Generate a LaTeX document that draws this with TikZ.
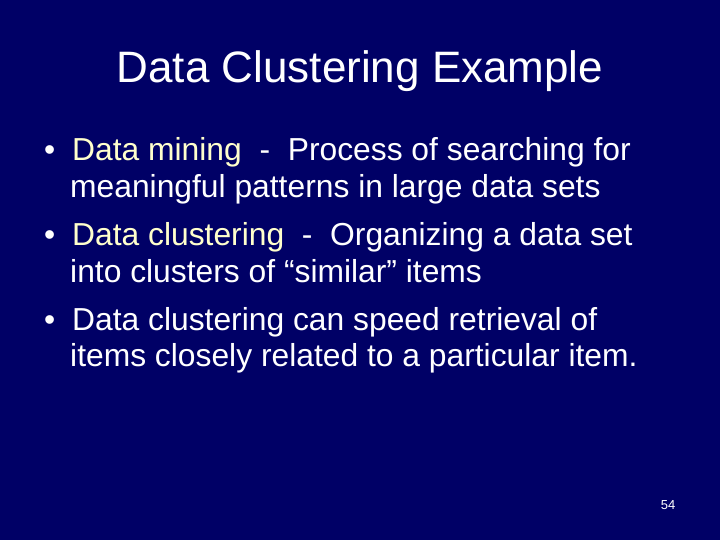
\documentclass[tikz,border=0pt]{standalone}
\usepackage{fontspec}
\setmainfont{Liberation Sans}
\definecolor{bg}{RGB}{0,0,102}
\definecolor{hl}{RGB}{255,255,204}
\begin{document}
\begin{tikzpicture}[x=1pt,y=-1pt,
  body/.style={anchor=base west,inner sep=0pt,text=white,font=\fontsize{31.8}{36}\selectfont},
  bul/.style={anchor=base west,inner sep=0pt,text=white,font=\fontsize{31.8}{36}\selectfont}]
\fill[bg] (0,0) rectangle (720,540);
\useasboundingbox (0,0) rectangle (720,540);
\node[anchor=base,inner sep=0pt,text=white,font=\fontsize{44}{52}\selectfont] (title) at (360,83) {Data Clustering Example};
\node[bul] (b1) at (44,161) {•};
\node[body] (l1) at (72,161) {\textcolor{hl}{Data mining}\ \ -\ \ Process of searching for};
\node[body] (l2) at (70,198) {meaningful patterns in large data sets};
\node[bul] (b2) at (44,245) {•};
\node[body] (l3) at (72,245) {\textcolor{hl}{Data clustering}\ \ -\ \ Organizing a data set};
\node[body] (l4) at (70,282) {into clusters of “similar” items};
\node[bul] (b3) at (44,330) {•};
\node[body] (l5) at (72,330) {Data clustering can speed retrieval of};
\node[body] (l6) at (70,366) {items closely related to a particular item.};
\node[anchor=base,inner sep=0pt,text=white,font=\fontsize{13}{15}\selectfont] (pg) at (668,509) {54};
\end{tikzpicture}
\end{document}
